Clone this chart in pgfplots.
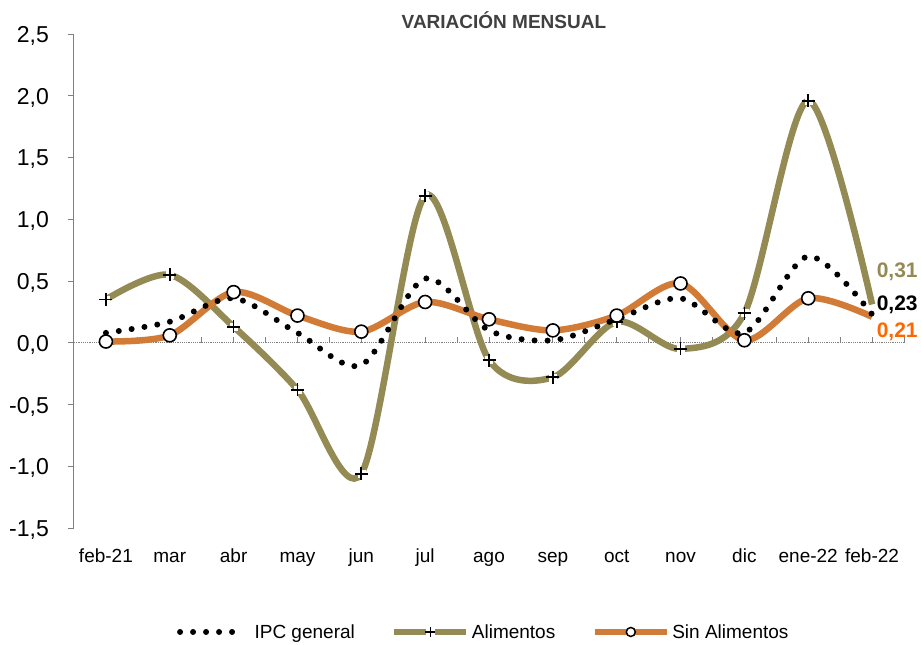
\documentclass[border=0pt]{standalone}
\usepackage{fontspec}
\setmainfont{Liberation Sans}
\usepackage{pgfplots}
\usepackage{pgfplotstable}
\pgfplotsset{compat=1.18}
\definecolor{olivec}{HTML}{948A54}
\definecolor{orangec}{HTML}{D27B37}
\definecolor{labor}{HTML}{FF6600}
\definecolor{titlec}{HTML}{404040}

\pgfplotstableread{
x y
0 0.08
1 0.17
2 0.36
3 0.08
4 -0.18
5 0.52
6 0.10
7 0.02
8 0.19
9 0.36
10 0.08
11 0.70
12 0.23
}\ipc
\pgfplotstableread{
x y
0 0.35
1 0.55
2 0.13
3 -0.38
4 -1.06
5 1.19
6 -0.14
7 -0.28
8 0.17
9 -0.05
10 0.24
11 1.96
12 0.31
}\alim
\pgfplotstableread{
x y
0 0.01
1 0.06
2 0.41
3 0.22
4 0.09
5 0.33
6 0.19
7 0.10
8 0.22
9 0.48
10 0.02
11 0.36
12 0.21
}\sinal

\begin{document}
\begin{tikzpicture}
\path[use as bounding box] (-74pt,-117pt) rectangle (847pt,528pt);
\begin{axis}[
  scale only axis, width=830pt, height=494pt,
  at={(0pt,0pt)}, anchor=south west,
  xmin=-0.5, xmax=12.5, ymin=-1.5, ymax=2.5,
  axis lines*=left,
  x axis line style={draw=none},
  y axis line style={draw=gray, line width=1pt},
  xtick={0,1,2,3,4,5,6,7,8,9,10,11,12},
  xticklabels={feb-21,mar,abr,may,jun,jul,ago,sep,oct,nov,dic,ene-22,feb-22},
  xtick style={draw=none},
  ytick={-1.5,-1,-0.5,0,0.5,1,1.5,2,2.5},
  ytick style={draw=gray, line width=1pt},
  tick align=outside, major tick length=6pt,
  /pgf/number format/assume math mode=true,
  yticklabel style={/pgf/number format/.cd, fixed, fixed zerofill, precision=1, use comma, /tikz/.cd,
    font=\fontsize{23}{23}\selectfont, anchor=east, inner sep=0pt, xshift=-19pt, yshift=-2pt},
  xticklabel style={font=\fontsize{19}{19}\selectfont, anchor=base, inner sep=0pt, yshift=-28pt},
  clip=false,
  legend columns=3,
  legend cell align=left,
  legend style={draw=none, fill=none, at={(0.494,-0.2105)}, anchor=center,
    font=\fontsize{19}{19}\selectfont, inner sep=0pt,
    nodes={inner sep=2.5pt},
    /tikz/every even column/.append style={column sep=34pt}},
]
% zero line and small ticks
\draw[gray, line width=1.2pt, densely dotted] (axis cs:-0.5,0) -- (axis cs:12.5,0);
\pgfplotsinvokeforeach{0,0.5,1,1.5,2,2.5,3,3.5,4,4.5,5,5.5,6,6.5,7,7.5,8,8.5,9,9.5,10,10.5,11,11.5,12,12.5}{
  \draw[gray, line width=0.8pt] (axis cs:#1,0) -- ++(0pt,6pt);
}
% legend images
\addlegendimage{legend image code/.code={
  \draw[black, line width=6pt, line cap=round, dash pattern=on 0pt off 13pt] (0pt,0pt) -- (56pt,0pt);
  \path[draw=none] (0pt,0pt) -- (72pt,0pt);}}
\addlegendentry{IPC general}
\addlegendimage{legend image code/.code={
  \draw[olivec, line width=6pt] (0pt,0pt) -- (72pt,0pt);
  \fill[white] (32pt,-4pt) rectangle (40pt,4pt);
  \draw[black, line width=1.5pt] (31pt,0pt) -- (41pt,0pt) (36pt,-5pt) -- (36pt,5pt);}}
\addlegendentry{Alimentos}
\addlegendimage{legend image code/.code={
  \draw[orangec, line width=6pt] (0pt,0pt) -- (72pt,0pt);
  \draw[black, fill=white, line width=1.5pt] (36pt,0pt) circle (4.5pt);}}
\addlegendentry{Sin Alimentos}
% Alimentos
\addplot[olivec, line width=6.5pt, smooth, forget plot] table {\alim};
\addplot[white, only marks, mark=square*, mark size=3.5pt,
  mark options={white}, mark indices={1,...,12}, forget plot] table {\alim};
\addplot[black, only marks, mark=+, mark size=6.5pt, mark options={black, line width=1.7pt},
  mark indices={1,...,12}, forget plot] table {\alim};
% Sin Alimentos
\addplot[orangec, line width=6.5pt, smooth, forget plot] table {\sinal};
\addplot[black, only marks, mark=*, mark size=6.5pt, mark options={fill=white, draw=black, line width=1.6pt},
  mark indices={1,...,12}, forget plot] table {\sinal};
% IPC general
\addplot[black, line width=6pt, smooth, line cap=round, dash pattern=on 0pt off 13pt, forget plot] table {\ipc};
% title and end labels
\node[font=\bfseries\fontsize{19}{19}\selectfont, text=titlec] at (rel axis cs:0.518,1.028) {VARIACIÓN MENSUAL};
\node[anchor=west, inner sep=0pt, font=\bfseries\fontsize{21}{21}\selectfont, text=olivec] at (axis cs:12.07,0.575) {0,31};
\node[anchor=west, inner sep=0pt, font=\bfseries\fontsize{21}{21}\selectfont, text=black] at (axis cs:12.07,0.31) {0,23};
\node[anchor=west, inner sep=0pt, font=\bfseries\fontsize{21}{21}\selectfont, text=labor] at (axis cs:12.07,0.085) {0,21};
\end{axis}
\end{tikzpicture}
\end{document}
